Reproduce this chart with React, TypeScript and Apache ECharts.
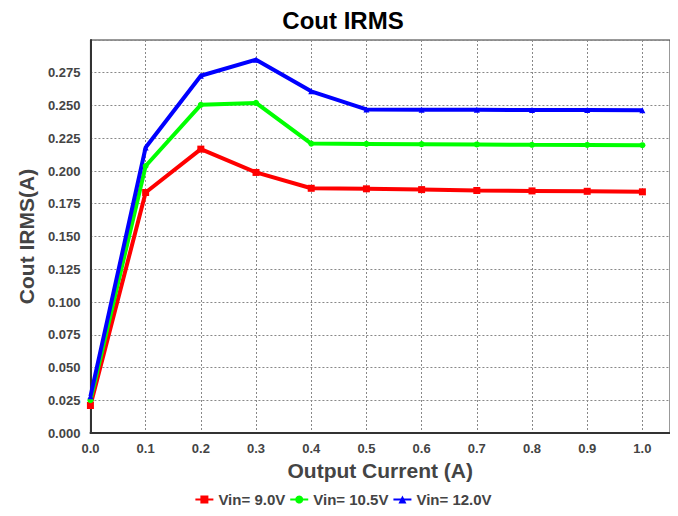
import React, { useEffect, useRef } from "react";
import * as echarts from "echarts";

const xValues = [0.0, 0.1, 0.2, 0.3, 0.4, 0.5, 0.6, 0.7, 0.8, 0.9, 1.0];
const vin9 = [0.021, 0.1836, 0.2167, 0.1989, 0.1868, 0.1864, 0.1858, 0.1851, 0.1848, 0.1845, 0.1841];
const vin105 = [0.025, 0.2038, 0.2505, 0.252, 0.2209, 0.2207, 0.2205, 0.2203, 0.22, 0.2199, 0.2197];
const vin12 = [0.028, 0.2179, 0.2727, 0.2849, 0.2608, 0.247, 0.2468, 0.2467, 0.2466, 0.2465, 0.2464];
const seriesNames = ["Vin= 9.0V", "Vin= 10.5V", "Vin= 12.0V"];

export default function App() {
  const ref = useRef<HTMLDivElement>(null);
  useEffect(() => {
    if (!ref.current) return;
    const chart = echarts.init(ref.current, undefined, { renderer: "svg" });
    const mk = (arr: number[]) => xValues.map((x, i) => [x, arr[i]]);
    const font = "Liberation Sans, Arial, sans-serif";
    chart.setOption({
      animation: false,
      title: {
        text: "Cout IRMS",
        left: "center",
        top: 0,
        padding: [0, 5, 0, 5],
        textStyle: { fontFamily: font, fontSize: 24, fontWeight: "bold", color: "#000" },
      },
      legend: {
        bottom: 4,
        left: "center",
        itemWidth: 18,
        itemHeight: 10,
        itemGap: 4,
        textStyle: { fontFamily: font, fontSize: 15, fontWeight: "bold", color: "#444" },
        data: seriesNames,
      },
      grid: {
        left: 74,
        right: 8,
        top: 32,
        bottom: 83,
        show: true,
        borderColor: "#333",
        borderWidth: 1,
      },
      xAxis: {
        type: "value",
        min: 0,
        max: 1.05,
        interval: 0.1,
        name: "Output Current (A)",
        nameLocation: "middle",
        nameGap: 25,
        nameTextStyle: { fontFamily: font, fontSize: 21, fontWeight: "bold", color: "#444" },
        axisLine: { show: true, lineStyle: { color: "#333", width: 2 } },
        axisTick: { show: false },
        axisLabel: {
          showMaxLabel: false,
          fontFamily: font,
          fontSize: 13,
          fontWeight: "bold",
          color: "#444",
          margin: 9,
          formatter: (v: number) => v.toFixed(1),
        },
        splitLine: { show: true, lineStyle: { color: "#888", type: [2, 2], width: 1 } },
      },
      yAxis: {
        type: "value",
        min: 0,
        max: 0.3,
        interval: 0.025,
        name: "Cout IRMS(A)",
        nameLocation: "middle",
        nameGap: 52,
        nameTextStyle: { fontFamily: font, fontSize: 21, fontWeight: "bold", color: "#444" },
        axisLine: { show: true, lineStyle: { color: "#333", width: 2 } },
        axisTick: { show: false },
        axisLabel: {
          showMaxLabel: false,
          fontFamily: font,
          fontSize: 13,
          fontWeight: "bold",
          color: "#444",
          margin: 10,
          formatter: (v: number) => v.toFixed(3),
        },
        splitLine: { show: true, lineStyle: { color: "#888", type: [2, 2], width: 1 } },
      },
      series: [
        {
          name: seriesNames[0],
          type: "line",
          data: mk(vin9),
          color: "#ff0000",
          symbol: "rect",
          symbolSize: 7,
          lineStyle: { width: 4 },
        },
        {
          name: seriesNames[1],
          type: "line",
          data: mk(vin105),
          color: "#00ff00",
          symbol: "circle",
          symbolSize: 6,
          lineStyle: { width: 4 },
        },
        {
          name: seriesNames[2],
          type: "line",
          data: mk(vin12),
          color: "#0000ff",
          symbol: "triangle",
          symbolSize: 6,
          lineStyle: { width: 4 },
        },
      ],
    });
    return () => chart.dispose();
  }, []);
  return <div ref={ref} style={{ width: 670, height: 508 }} />;
}
